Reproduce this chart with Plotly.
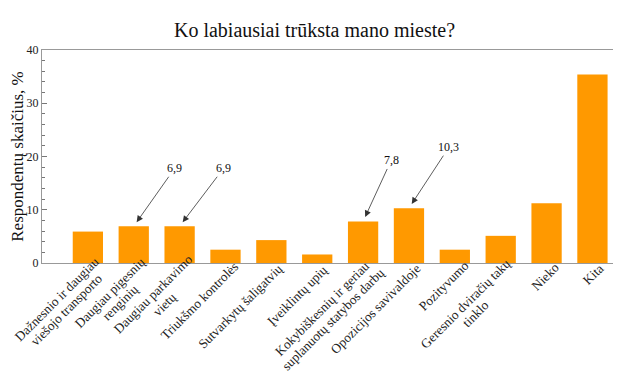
import plotly.graph_objects as go

categories = [
    "Dažnesnio ir daugiau<br>viešojo transporto",
    "Daugiau pigesnių<br>renginių",
    "Daugiau parkavimo<br>vietų",
    "Triukšmo kontrolės",
    "Sutvarkytų šaligatvių",
    "Įveiklintų upių",
    "Kokybiškesnių ir geriau<br>suplanuotų statybos darbų",
    "Opozicijos savivaldoje",
    "Pozityvumo",
    "Geresnio dviračių takų<br>tinklo",
    "Nieko",
    "Kita",
]
values = [5.9, 6.9, 6.9, 2.5, 4.3, 1.6, 7.8, 10.3, 2.5, 5.1, 11.2, 35.4]

annotated_idx = [1, 2, 6, 7]
annotated_text = ["6,9", "6,9", "7,8", "10,3"]
annot_ax = [41, 44, 28, 40]
annot_ay = [-58, -58, -61, -61]

FONT = "Liberation Serif"
LABEL_SIZE = 13.2
CHAR_W = 5.3      # approx. px per character at LABEL_SIZE
LINE_STEP = 14.5  # px between label lines
C = 0.7071

fig = go.Figure()
fig.add_trace(go.Bar(
    x=list(range(len(categories))),
    y=values,
    marker=dict(color="#FF9900", line=dict(width=0)),
    width=0.66,
))

for i, t, ax, ay in zip(annotated_idx, annotated_text, annot_ax, annot_ay):
    fig.add_annotation(
        x=i, y=values[i], text=t, showarrow=True,
        ax=ax, ay=ay, arrowhead=2, arrowsize=1.6, arrowwidth=0.8,
        arrowcolor="#333333", standoff=5,
        font=dict(family=FONT, size=12, color="#111111"),
    )

# category labels: rotated -45°, lines centred, block hanging from each tick
for i, lab in enumerate(categories):
    lines = lab.split("<br>")
    n = len(lines)
    W = max(len(s) for s in lines) * CHAR_W
    tx, ty = (3, -1) if n == 1 else (1, -6)
    for k, s in enumerate(lines):
        dx = tx - (W / 2) * C + (k + 0.5) * LINE_STEP * C
        dy = ty + (W / 2) * C + (k + 0.5) * LINE_STEP * C
        fig.add_annotation(
            x=i, y=0, xref="x", yref="y", text=s, showarrow=False,
            textangle=-45, xanchor="center", yanchor="middle",
            xshift=dx, yshift=-dy,
            font=dict(family=FONT, size=LABEL_SIZE, color="#222222"),
        )

fig.update_layout(
    width=613, height=364,
    margin=dict(l=34, r=7, t=42, b=109),
    paper_bgcolor="white", plot_bgcolor="white",
    showlegend=False,
    title=dict(text="Ko labiausiai trūksta mano mieste?", x=0.5, xanchor="center",
               y=0.94, yanchor="middle",
               font=dict(family=FONT, size=20, color="#111111")),
    font=dict(family=FONT, size=13, color="#222222"),
)
fig.update_xaxes(
    tickmode="array", tickvals=list(range(len(categories))),
    showticklabels=False,
    range=[-1.0, 11.47], showgrid=False, ticks="",
    showline=True, linecolor="#999999", linewidth=1.2, mirror=True,
    automargin=False,
)
fig.update_yaxes(
    range=[0, 40], dtick=10, showgrid=False, zeroline=False,
    ticks="inside", ticklen=5, tickcolor="#777777",
    minor=dict(dtick=2, ticks="inside", ticklen=3, tickcolor="#777777", showgrid=False),
    showline=True, linecolor="#999999", linewidth=1.2, mirror=True,
    automargin=False,
    title=dict(text="Respondentų skaičius, %", font=dict(family=FONT, size=17, color="#111111"), standoff=4),
    tickfont=dict(family=FONT, size=12, color="#222222"),
)

fig.write_html("out.html")
